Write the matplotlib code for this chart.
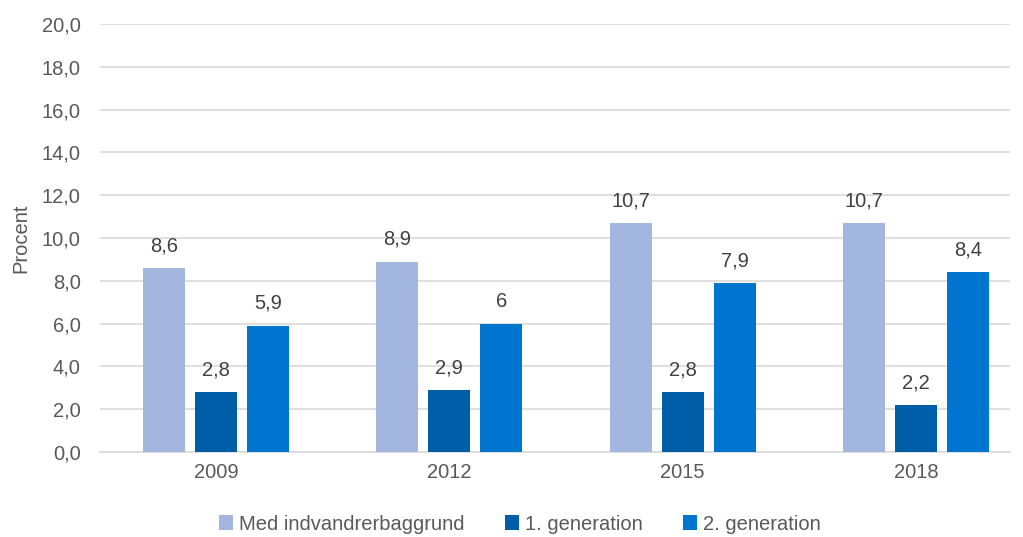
import matplotlib
matplotlib.use("Agg")
import matplotlib.pyplot as plt
import numpy as np

plt.rcParams['font.family'] = ['Liberation Sans', 'DejaVu Sans']

years = ["2009", "2012", "2015", "2018"]
series_names = ["Med indvandrerbaggrund", "1. generation", "2. generation"]
med = [8.6, 8.9, 10.7, 10.7]
gen1 = [2.8, 2.9, 2.8, 2.2]
gen2 = [5.9, 6.0, 7.9, 8.4]
labels_med = ["8,6", "8,9", "10,7", "10,7"]
labels_gen1 = ["2,8", "2,9", "2,8", "2,2"]
labels_gen2 = ["5,9", "6", "7,9", "8,4"]
colors = ["#A3B6E0", "#005EA9", "#0075CF"]

fs = 14.5
fig = plt.figure(figsize=(10.23, 5.37), dpi=100)
ax = fig.add_axes([100/1023, 1-452/537, 910/1023, (452-24)/537])

x = np.arange(len(years))
w = 0.18
off = 0.223
tc = "#595959"
for i, (vals, labs) in enumerate(zip([med, gen1, gen2], [labels_med, labels_gen1, labels_gen2])):
    pos = x + (i - 1) * off
    ax.bar(pos, vals, width=w, color=colors[i], label=series_names[i], zorder=3)
    for p, v, l in zip(pos, vals, labs):
        ax.text(p, v + 0.6, l, ha="center", va="bottom", fontsize=fs, color="#404040")

ax.set_xlim(-0.497, 3.403)
ax.set_ylim(0, 20)
ax.set_yticks(np.arange(0, 21, 2))
ax.set_yticklabels([f"{v:.1f}".replace(".", ",") for v in np.arange(0, 21, 2)])
ax.set_xticks(x)
ax.set_xticklabels(years)
ax.tick_params(axis="both", length=0, labelsize=fs, labelcolor=tc)
ax.tick_params(axis="y", pad=14)
ax.tick_params(axis="x", pad=8)
ax.yaxis.grid(True, color="#D9D9D9", linewidth=1.2, zorder=0)
for s in ["top", "right", "left"]:
    ax.spines[s].set_visible(False)
ax.spines["bottom"].set_color("#D9D9D9")
ax.spines["bottom"].set_linewidth(1.2)
ax.set_ylabel("Procent", fontsize=fs, color=tc, labelpad=8)

leg = fig.legend(loc="center", bbox_to_anchor=(0.508, 1-524/537), ncol=3, frameon=False,
                 fontsize=fs, handlelength=0.7, handleheight=0.7, handletextpad=0.3,
                 columnspacing=2.0)
for t in leg.get_texts():
    t.set_color(tc)

fig.savefig("out.png", dpi=100)
